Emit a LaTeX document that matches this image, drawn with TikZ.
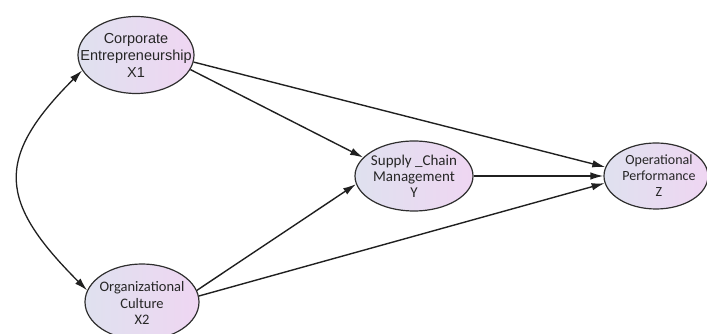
\documentclass[tikz,border=0pt]{standalone}
\usepackage{fontspec}
\newfontfamily\arialf{Liberation Sans}
\newfontfamily\calibf{Carlito}
\usepackage{tikz}
\usetikzlibrary{arrows.meta,shapes.geometric}
\definecolor{linec}{HTML}{202020}
\definecolor{edgec}{HTML}{2E2E2E}
\definecolor{leftc}{HTML}{DFE1EF}
\definecolor{rightc}{HTML}{EFD6F2}
\definecolor{txtc}{HTML}{262626}
\tikzset{
  >={Latex[length=13pt,width=7.5pt]},
  lv/.style={ellipse,draw=edgec,line width=1.2pt,left color=leftc,right color=rightc,inner sep=0pt},
  lvtext/.style={align=center,text=txtc,inner sep=0pt},
  pth/.style={->,line width=1.4pt,draw=linec},
  cov/.style={<->,line width=1.3pt,draw=linec},
}
\begin{document}
\begin{tikzpicture}[x=1pt,y=1pt]
  \useasboundingbox (0,0) rectangle (707,334);
  % latent variables
  \node[lv,minimum width=116pt,minimum height=77pt] (x1) at (136,279) {};
  \node[lv,minimum width=114pt,minimum height=76pt] (x2) at (142,32) {};
  \node[lv,minimum width=118pt,minimum height=70pt] (y) at (414,158) {};
  \node[lv,minimum width=104pt,minimum height=66pt] (z) at (656,158) {};
  \node[lvtext,font=\arialf\fontsize{14.5}{17}\selectfont] (x1t) at (x1) {Corporate\\Entrepreneurship\\X1};
  \node[lvtext,font=\calibf\fontsize{14.5}{16.5}\selectfont] (x2t) at ([yshift=-1pt]x2) {Organizational\\Culture\\X2};
  \node[lvtext,font=\calibf\fontsize{15}{16}\selectfont] (yt) at (y) {Supply \_Chain\\Management\\Y};
  \node[lvtext,font=\calibf\fontsize{14}{16}\selectfont] (zt) at ([xshift=3pt]z) {Operational\\Performance\\Z};
  % paths
  \draw[pth] (x1.-15) -- (y.160);
  \draw[pth] (x1.-7) -- (z.170);
  \draw[pth] (y.east) -- (z.west);
  \draw[pth] (x2.12) -- (y.188);
  \draw[pth] (x2.6) -- (z.188);
  % covariance
  \draw[cov] (x1.196) to[out=225,in=135,looseness=1.45] (x2.168);
\end{tikzpicture}
\end{document}
